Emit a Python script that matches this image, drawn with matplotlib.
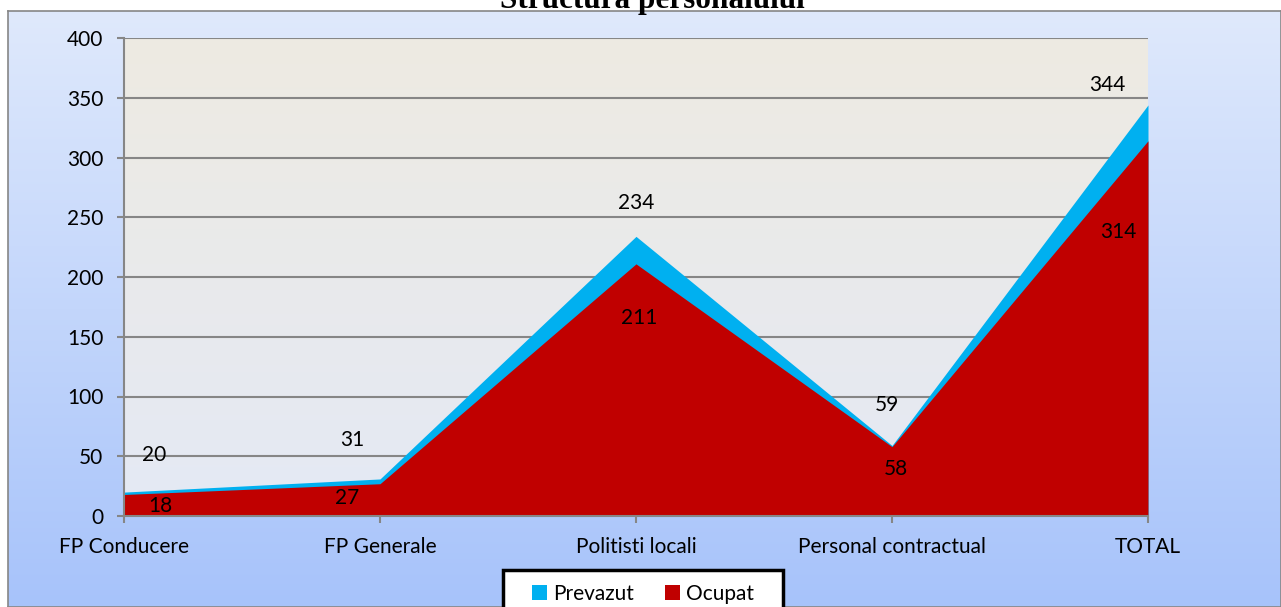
import numpy as np
import matplotlib
matplotlib.use("Agg")
import matplotlib.pyplot as plt
from matplotlib.colors import LinearSegmentedColormap
from matplotlib.patches import Patch
from matplotlib.path import Path

# data
categories = ["FP Conducere", "FP Generale", "Politisti locali", "Personal contractual", "TOTAL"]
prevazut = [20, 31, 234, 59, 344]
ocupat = [18, 27, 211, 58, 314]

# label offsets (points) - placed as in the original
prev_off = [(22, 27), (-20, 28), (0, 24), (-4, 29), (-29, 14)]
ocup_off = [(26, -8), (-24, -10), (2, -39), (3, -16), (-21, -66)]

plt.rcParams['font.family'] = ['Lato', 'DejaVu Sans']
FS = 15

W, H = 1281, 607
fig = plt.figure(figsize=(W / 100, H / 100), dpi=100)
fig.patch.set_facecolor('white')

# outer chart background (blue gradient) with border
bg = fig.add_axes([8 / W, 0, 1 - 8 / W, 1 - 11 / H], zorder=-10)
bg_cmap = LinearSegmentedColormap.from_list('bg', ['#DFE9FC', '#A7C3FA'])
bg.imshow(np.linspace(0, 1, 256).reshape(-1, 1), cmap=bg_cmap, aspect='auto',
          extent=[0, 1, 0, 1], origin='upper')
bg.set_xticks([])
bg.set_yticks([])
for s in bg.spines.values():
    s.set_color('#868686')
    s.set_linewidth(1.2)

# title (partly cut off at top, as in the original)
fig.text(652 / W, 1 - 8 / H, 'Structura personalului', ha='center', va='baseline',
         fontsize=22.5, fontweight='bold', family=['Liberation Serif', 'DejaVu Serif'])

ax = fig.add_axes([124 / W, 1 - 516 / H, (1148 - 124) / W, (516 - 38) / H])
x = np.arange(len(categories))

pa_cmap = LinearSegmentedColormap.from_list('pa', ['#EEEBE2', '#E4E9F5'])
ax.imshow(np.linspace(0, 1, 256).reshape(-1, 1), cmap=pa_cmap, aspect='auto',
          extent=[0, len(categories) - 1, 0, 400], origin='upper', zorder=0)

ax.fill_between(x, prevazut, color='#00B0F0', zorder=1, linewidth=0)
ax.fill_between(x, ocupat, color='#C00000', zorder=2, linewidth=0)

for i in range(len(categories)):
    ax.annotate(str(prevazut[i]), (x[i], prevazut[i]), xytext=prev_off[i],
                textcoords='offset points', ha='center', va='center', fontsize=FS,
                color='black', zorder=5, annotation_clip=False)
    ax.annotate(str(ocupat[i]), (x[i], ocupat[i]), xytext=ocup_off[i],
                textcoords='offset points', ha='center', va='center', fontsize=FS,
                color='black', zorder=5, annotation_clip=False)

ax.set_xlim(0, len(categories) - 1)
ax.set_ylim(0, 400)
ax.set_yticks(np.arange(0, 401, 50))
ax.set_xticks(x)
ax.set_xticklabels(categories)
ax.set_axisbelow(True)
ax.yaxis.grid(True, color='#868686', linewidth=1.5)
ax.xaxis.grid(False)

for side in ['top', 'right']:
    ax.spines[side].set_visible(False)
for side in ['left', 'bottom']:
    ax.spines[side].set_color('#868686')
    ax.spines[side].set_linewidth(1.5)
    ax.spines[side].set_zorder(3)
ax.tick_params(axis='both', colors='#868686', labelcolor='black', labelsize=FS,
               length=5, width=1.5)
ax.tick_params(axis='y', pad=10)
ax.tick_params(axis='x', pad=10)


# legend frame: wider padding left/right than top/bottom
def wide_square(x0, y0, width, height, mutation_size):
    p = 0.75 * mutation_size
    x0 -= p
    width += 2 * p
    return Path([(x0, y0), (x0 + width, y0), (x0 + width, y0 + height),
                 (x0, y0 + height), (x0, y0)], closed=True)


handles = [Patch(facecolor='#00B0F0', label='Prevazut'),
           Patch(facecolor='#C00000', label='Ocupat')]
leg = fig.legend(handles=handles, loc='upper center', bbox_to_anchor=(643 / W, 1 - 570 / H),
                 ncol=2, fontsize=FS, frameon=True, fancybox=False,
                 handlelength=0.7, handleheight=0.7, handletextpad=0.3,
                 columnspacing=1.5, borderpad=0.65, borderaxespad=0)
frame = leg.get_frame()
frame.set_boxstyle(wide_square)
frame.set_edgecolor('black')
frame.set_linewidth(2.5)
frame.set_facecolor('white')
frame.set_alpha(1)

fig.savefig('out.png', dpi=100)
